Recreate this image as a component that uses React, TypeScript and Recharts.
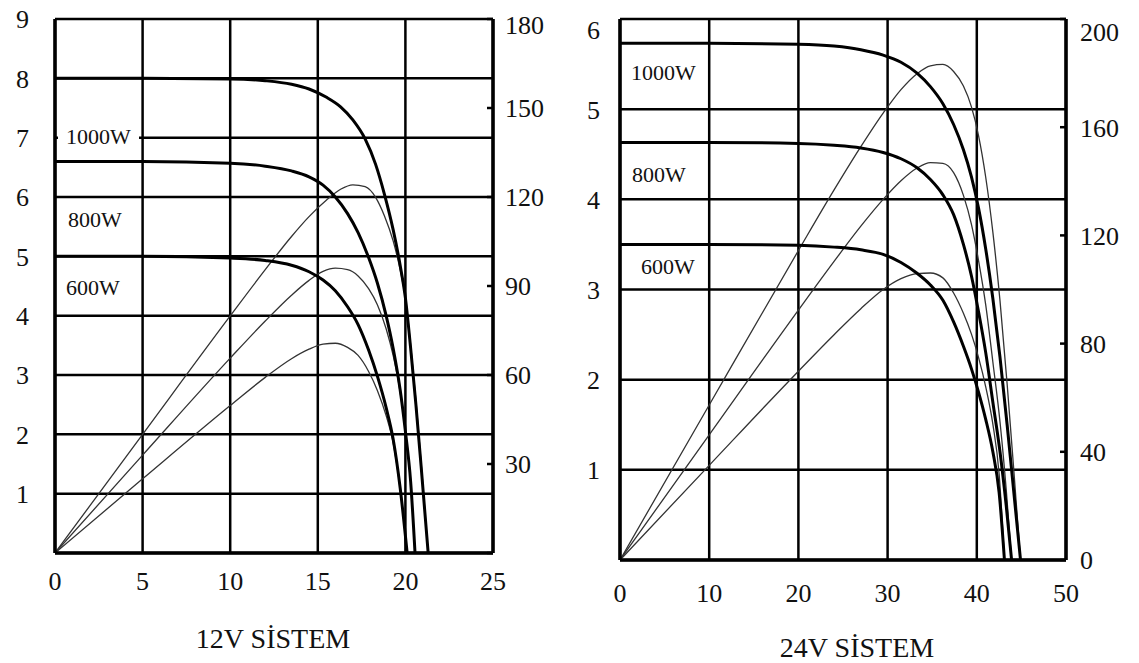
import React from 'react';
import { LineChart, Line, XAxis, YAxis, CartesianGrid } from 'recharts';

// ---------- 12V SİSTEM (voltage V, current A, power W) ----------
const V12_1000 = [0, 5, 10, 12, 13.5, 14.5, 15.5, 16.3, 17.0, 17.7, 18.3, 18.8, 19.3, 19.7, 20.0, 20.3, 20.6, 20.9, 21.3];
const I12_1000 = [8.0, 8.0, 7.99, 7.96, 7.9, 7.82, 7.68, 7.52, 7.3, 6.98, 6.55, 6.05, 5.45, 4.85, 4.3, 3.45, 2.5, 1.45, 0];
const P12_1000 = [0, 40, 79.9, 95.5, 106.7, 113.4, 119, 122.6, 124.1, 123.5, 119.9, 113.7, 105.2, 95.5, 86, 70, 51.5, 30.3, 0];

const V12_800 = [0, 5, 10, 12, 13.5, 14.5, 15.3, 16.0, 16.7, 17.3, 17.9, 18.4, 18.9, 19.3, 19.7, 20.0, 20.3, 20.55];
const I12_800 = [6.6, 6.6, 6.57, 6.52, 6.44, 6.34, 6.2, 6.0, 5.72, 5.4, 4.98, 4.55, 4.0, 3.45, 2.75, 2.05, 1.2, 0];
const P12_800 = [0, 33, 65.7, 78.2, 86.9, 91.9, 94.9, 96, 95.5, 93.4, 89.1, 83.7, 75.6, 66.6, 54.2, 41, 24.4, 0];

const V12_600 = [0, 5, 10, 12, 13.5, 14.5, 15.3, 16.0, 16.7, 17.3, 17.9, 18.4, 18.9, 19.3, 19.7, 20.1];
const I12_600 = [5.0, 5.0, 4.97, 4.93, 4.85, 4.74, 4.6, 4.42, 4.15, 3.85, 3.42, 2.98, 2.45, 1.92, 1.1, 0];
const P12_600 = [0, 25, 49.7, 59.2, 65.5, 68.7, 70.4, 70.7, 69.3, 66.6, 61.2, 54.8, 46.3, 37.1, 21.7, 0];

// ---------- 24V SİSTEM ----------
const V24_1000 = [0, 10, 20, 24, 27, 29.5, 31.5, 33.3, 34.8, 36.2, 37.4, 38.5, 39.4, 40.2, 41.0, 41.8, 42.6, 43.4, 44.2, 44.9];
const I24_1000 = [5.73, 5.73, 5.72, 5.7, 5.66, 5.6, 5.52, 5.4, 5.25, 5.06, 4.83, 4.55, 4.25, 3.9, 3.45, 2.9, 2.25, 1.5, 0.7, 0];
const P24_1000 = [0, 57.3, 114.4, 136.8, 152.8, 165.2, 173.9, 179.8, 182.7, 183.2, 180.6, 175.2, 167.5, 156.8, 141.5, 121.2, 95.9, 65.1, 30.9, 0];

const V24_800 = [0, 10, 20, 24, 27, 29.5, 31.5, 33.3, 34.8, 36.2, 37.4, 38.5, 39.4, 40.2, 41.0, 41.8, 42.6, 43.3, 43.9];
const I24_800 = [4.63, 4.63, 4.62, 4.6, 4.57, 4.52, 4.45, 4.35, 4.22, 4.05, 3.83, 3.5, 3.15, 2.75, 2.3, 1.75, 1.2, 0.6, 0];
const P24_800 = [0, 46.3, 92.4, 110.4, 123.4, 133.3, 140.2, 144.9, 146.9, 146.6, 143.2, 134.8, 124.1, 110.6, 94.3, 73.2, 51.1, 26, 0];

const V24_600 = [0, 10, 20, 24, 27, 29.5, 31.5, 33.3, 34.8, 36.2, 37.4, 38.5, 39.4, 40.2, 41.0, 41.8, 42.5, 43.1];
const I24_600 = [3.5, 3.5, 3.49, 3.47, 3.44, 3.39, 3.3, 3.18, 3.05, 2.88, 2.64, 2.37, 2.12, 1.86, 1.56, 1.2, 0.75, 0];
const P24_600 = [0, 35, 69.8, 83.3, 92.9, 100, 104, 105.9, 106.1, 104.3, 98.7, 91.2, 83.5, 74.8, 64, 50.2, 31.9, 0];

// ---------- axes ----------
const X12_TICKS = [0, 5, 10, 15, 20, 25];
const I12_TICKS = [0, 1, 2, 3, 4, 5, 6, 7, 8, 9];
const P12_TICKS = [0, 30, 60, 90, 120, 150, 180];
const X24_TICKS = [0, 10, 20, 30, 40, 50];
const I24_TICKS = [0, 1, 2, 3, 4, 5, 6];
const P24_TICKS = [0, 40, 80, 120, 160, 200];

const LABELS = ['1000W', '800W', '600W'];
const TITLE12 = '12V SİSTEM';
const TITLE24 = '24V SİSTEM';

const FONT = "'Liberation Serif', 'Times New Roman', 'DejaVu Serif', serif";
const INK = '#111';

const build = (v: number[], i: number[], p: number[]) => v.map((x, k) => ({ v: x, i: i[k], p: p[k] }));

const makeLeftTick = (hideZero: boolean, topValue: number, topShift: number) => (props: any) => {
  const v = props.payload.value;
  if (hideZero && v === 0) return <g />;
  const dy = v === topValue ? topShift : 0;
  return (
    <text x={props.x} y={props.y + dy} dy="0.36em" textAnchor="end" fontFamily={FONT} fontSize={26} fill={INK}>
      {v}
    </text>
  );
};

const makeRightTick = (margin: number, hideZero: boolean, topValue: number, topShift: number) => (props: any) => {
  const v = props.payload.value;
  const ax = props.x - margin;
  const dy = v === topValue ? topShift : 0;
  return (
    <g>
      <line x1={ax - 6} x2={ax} y1={props.y} y2={props.y} stroke="#000" strokeWidth={2.5} />
      {hideZero && v === 0 ? null : (
        <text x={props.x} y={props.y + dy} dy="0.36em" textAnchor="start" fontFamily={FONT} fontSize={26} fill={INK}>
          {v}
        </text>
      )}
    </g>
  );
};

type Series = { data: { v: number; i: number; p: number }[] };

type PanelProps = {
  width: number;
  height: number;
  margin: { top: number; right: number; bottom: number; left: number };
  xTicks: number[];
  iTicks: number[];
  pTicks: number[];
  series: Series[];
  leftMargin: number;
  rightMargin: number;
  xMargin: number;
  rightHideZero: boolean;
  leftTopShift: number;
  rightTopShift: number;
};

function Panel(p: PanelProps) {
  const xMax = p.xTicks[p.xTicks.length - 1];
  const iMax = p.iTicks[p.iTicks.length - 1];
  const pMax = p.pTicks[p.pTicks.length - 1];
  const axisLine = { stroke: '#000', strokeWidth: 3.5 };
  return (
    <LineChart width={p.width} height={p.height} margin={p.margin}>
      <CartesianGrid yAxisId="I" stroke="#000" strokeWidth={2.5} strokeOpacity={1} />
      <XAxis
        type="number"
        dataKey="v"
        domain={[0, xMax]}
        ticks={p.xTicks}
        allowDataOverflow
        height={40}
        tickSize={0}
        tickLine={false}
        tickMargin={p.xMargin}
        axisLine={axisLine}
        tick={{ fontFamily: FONT, fontSize: 26, fill: INK }}
      />
      <YAxis
        yAxisId="I"
        orientation="left"
        type="number"
        domain={[0, iMax]}
        ticks={p.iTicks}
        allowDataOverflow
        width={45}
        tickSize={0}
        tickLine={false}
        tickMargin={p.leftMargin}
        axisLine={axisLine}
        tick={makeLeftTick(true, iMax, p.leftTopShift)}
      />
      <YAxis
        yAxisId="P"
        orientation="right"
        type="number"
        domain={[0, pMax]}
        ticks={p.pTicks}
        allowDataOverflow
        width={60}
        tickSize={0}
        tickLine={false}
        tickMargin={p.rightMargin}
        axisLine={axisLine}
        tick={makeRightTick(p.rightMargin, p.rightHideZero, pMax, p.rightTopShift)}
      />
      {p.series.map((s, k) => (
        <Line
          key={'p' + k}
          data={s.data}
          yAxisId="P"
          dataKey="p"
          type="monotone"
          stroke="#333"
          strokeWidth={1.3}
          dot={false}
          activeDot={false}
          isAnimationActive={false}
        />
      ))}
      {p.series.map((s, k) => (
        <Line
          key={'i' + k}
          data={s.data}
          yAxisId="I"
          dataKey="i"
          type="monotone"
          stroke="#000"
          strokeWidth={3}
          dot={false}
          activeDot={false}
          isAnimationActive={false}
        />
      ))}
    </LineChart>
  );
}

const labelStyle = (left: number, centerY: number, bg: boolean): React.CSSProperties => ({
  position: 'absolute',
  left,
  top: centerY - 12,
  height: 24,
  lineHeight: '24px',
  fontFamily: FONT,
  fontSize: 22,
  color: INK,
  background: bg ? '#fff' : 'transparent',
  padding: bg ? '0 8px' : 0,
  whiteSpace: 'nowrap',
});

export default function App() {
  const s12 = [build(V12_1000, I12_1000, P12_1000), build(V12_800, I12_800, P12_800), build(V12_600, I12_600, P12_600)].map((d) => ({ data: d }));
  const s24 = [build(V24_1000, I24_1000, P24_1000), build(V24_800, I24_800, P24_800), build(V24_600, I24_600, P24_600)].map((d) => ({ data: d }));
  return (
    <div style={{ position: 'absolute', left: 0, top: 0, width: 1139, height: 663, background: '#fff', overflow: 'hidden' }}>
      <div style={{ position: 'absolute', left: 0, top: 0 }}>
        <Panel
          width={560}
          height={600}
          margin={{ top: 19, right: 7, bottom: 7, left: 10 }}
          xTicks={X12_TICKS}
          iTicks={I12_TICKS}
          pTicks={P12_TICKS}
          series={s12}
          leftMargin={26}
          rightMargin={12}
          xMargin={19}
          rightHideZero={true}
          leftTopShift={0}
          rightTopShift={6}
        />
      </div>
      <div style={{ position: 'absolute', left: 560, top: 0 }}>
        <Panel
          width={579}
          height={610}
          margin={{ top: 19, right: 13, bottom: 10, left: 15 }}
          xTicks={X24_TICKS}
          iTicks={I24_TICKS}
          pTicks={P24_TICKS}
          series={s24}
          leftMargin={20}
          rightMargin={14}
          xMargin={24}
          rightHideZero={false}
          leftTopShift={11}
          rightTopShift={13}
        />
      </div>
      {/* curve labels, 12V */}
      <div style={labelStyle(58, 137, true)}>{LABELS[0]}</div>
      <div style={labelStyle(68, 220, false)}>{LABELS[1]}</div>
      <div style={labelStyle(66, 288, false)}>{LABELS[2]}</div>
      {/* curve labels, 24V */}
      <div style={labelStyle(631, 73, false)}>{LABELS[0]}</div>
      <div style={labelStyle(632, 175, false)}>{LABELS[1]}</div>
      <div style={labelStyle(641, 267, false)}>{LABELS[2]}</div>
      {/* titles */}
      <div style={{ position: 'absolute', left: 173, width: 200, top: 622, textAlign: 'center', fontFamily: FONT, fontSize: 28, lineHeight: '34px', color: INK }}>
        {TITLE12}
      </div>
      <div style={{ position: 'absolute', left: 757, width: 200, top: 631, textAlign: 'center', fontFamily: FONT, fontSize: 28, lineHeight: '34px', color: INK }}>
        {TITLE24}
      </div>
    </div>
  );
}
